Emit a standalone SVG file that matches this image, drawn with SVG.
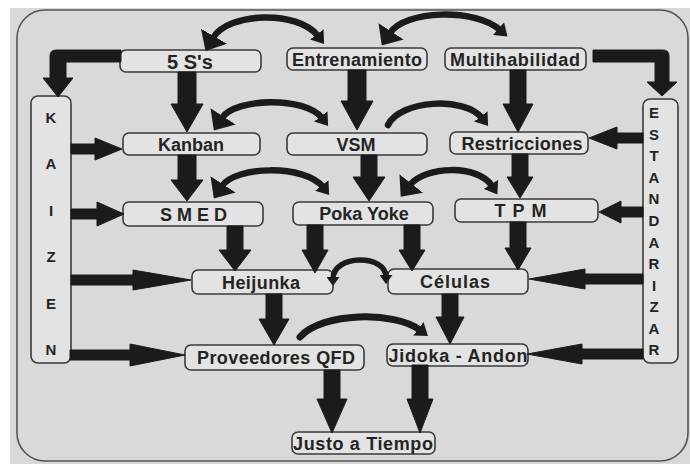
<svg xmlns="http://www.w3.org/2000/svg" width="690" height="464" viewBox="0 0 690 464">
  <style>
    .panel { fill: #d9d9d9; }
    .frame { fill: none; stroke: #555; stroke-width: 1.6; }
    .box { fill: #e3e3e3; stroke: #3a3a3a; stroke-width: 1.6; }
    .lbl { font-family: "Liberation Sans", Arial, sans-serif; font-weight: bold; font-size: 18px; fill: #242424; text-anchor: middle; }
    .vlbl { font-family: "Liberation Sans", Arial, sans-serif; font-weight: bold; font-size: 15px; fill: #242424; text-anchor: middle; }
    .blk { fill: #1b1b1b; stroke: #1b1b1b; stroke-width: 1; stroke-linejoin: round; }
    .arc { fill: none; stroke: #1b1b1b; stroke-width: 6.5; }
    .hd { fill: #1b1b1b; }
  </style>
  <defs>
    <marker id="hd-lg" viewBox="0 0 17 30" refX="2" refY="15" markerWidth="17" markerHeight="30" markerUnits="userSpaceOnUse" orient="auto-start-reverse">
      <path class="hd" d="M0,0 L17,15 L0,30 Z"/>
    </marker>
    <marker id="hd-sm" viewBox="0 0 12 17" refX="2" refY="8.5" markerWidth="12" markerHeight="17" markerUnits="userSpaceOnUse" orient="auto-start-reverse">
      <path class="hd" d="M0,0 L12,8.5 L0,17 Z"/>
    </marker>
    <marker id="hd-xs" viewBox="0 0 9 13" refX="2" refY="6.5" markerWidth="9" markerHeight="13" markerUnits="userSpaceOnUse" orient="auto-start-reverse">
      <path class="hd" d="M0,0 L9,6.5 L0,13 Z"/>
    </marker>
  </defs>

  <!-- background panel -->
  <rect class="panel" x="10" y="8" width="680" height="456"/>
  <rect class="frame" x="17" y="10" width="671" height="451" rx="28"/>

  <!-- side bars -->
  <g id="kaizen">
    <rect class="box" x="31" y="96" width="40" height="267" rx="7"/>
    <text class="vlbl" x="51" y="123">K</text>
    <text class="vlbl" x="51" y="169">A</text>
    <text class="vlbl" x="51" y="216">I</text>
    <text class="vlbl" x="51" y="262">Z</text>
    <text class="vlbl" x="51" y="309">E</text>
    <text class="vlbl" x="51" y="355">N</text>
  </g>
  <g id="estandarizar">
    <rect class="box" x="643" y="99" width="35" height="264" rx="7"/>
    <text class="vlbl" x="654" y="118">E</text>
    <text class="vlbl" x="654" y="140">S</text>
    <text class="vlbl" x="654" y="161">T</text>
    <text class="vlbl" x="654" y="183">A</text>
    <text class="vlbl" x="654" y="204">N</text>
    <text class="vlbl" x="654" y="226">D</text>
    <text class="vlbl" x="654" y="248">A</text>
    <text class="vlbl" x="654" y="269">R</text>
    <text class="vlbl" x="654" y="291">I</text>
    <text class="vlbl" x="654" y="312">Z</text>
    <text class="vlbl" x="654" y="334">A</text>
    <text class="vlbl" x="654" y="355">R</text>
  </g>

  <!-- process nodes -->
  <g id="n-5s">
    <rect class="box" x="120" y="50" width="141" height="22" rx="6"/>
    <text class="lbl" x="190" y="69" style="font-size:20px">5 S's</text>
  </g>
  <g id="n-entrenamiento">
    <rect class="box" x="287" y="48" width="140" height="22" rx="6"/>
    <text class="lbl" x="357" y="65.5" textLength="130">Entrenamiento</text>
  </g>
  <g id="n-multihabilidad">
    <rect class="box" x="445" y="48" width="141" height="22" rx="6"/>
    <text class="lbl" x="515" y="65.5" textLength="130">Multihabilidad</text>
  </g>
  <g id="n-kanban">
    <rect class="box" x="123" y="133" width="137" height="22" rx="6"/>
    <text class="lbl" x="191" y="150.5">Kanban</text>
  </g>
  <g id="n-vsm">
    <rect class="box" x="287" y="133" width="140" height="22" rx="6"/>
    <text class="lbl" x="356" y="150.5">VSM</text>
  </g>
  <g id="n-restricciones">
    <rect class="box" x="450" y="132" width="138" height="22" rx="6"/>
    <text class="lbl" x="522" y="149.5" textLength="121">Restricciones</text>
  </g>
  <g id="n-smed">
    <rect class="box" x="123" y="202" width="140" height="24" rx="6"/>
    <text class="lbl" x="196" y="220.5" style="letter-spacing:5px">SMED</text>
  </g>
  <g id="n-pokayoke">
    <rect class="box" x="293" y="202" width="140" height="23" rx="6"/>
    <text class="lbl" x="364" y="220">Poka Yoke</text>
  </g>
  <g id="n-tpm">
    <rect class="box" x="455" y="199" width="143" height="23" rx="6"/>
    <text class="lbl" x="524" y="217" style="letter-spacing:7px">TPM</text>
  </g>
  <g id="n-heijunka">
    <rect class="box" x="192" y="270" width="141" height="24" rx="6"/>
    <text class="lbl" x="261" y="288.5" textLength="78">Heijunka</text>
  </g>
  <g id="n-celulas">
    <rect class="box" x="388" y="269" width="140" height="25" rx="6"/>
    <text class="lbl" x="455" y="288" textLength="70">Células</text>
  </g>
  <g id="n-proveedores">
    <rect class="box" x="185" y="345" width="179" height="25" rx="6"/>
    <text class="lbl" x="276" y="364" textLength="158">Proveedores QFD</text>
  </g>
  <g id="n-jidoka">
    <rect class="box" x="387" y="344" width="141" height="22" rx="6"/>
    <text class="lbl" x="458" y="361.5" textLength="139">Jidoka - Andon</text>
  </g>
  <g id="n-justo">
    <rect class="box" x="292" y="432" width="143" height="22" rx="6"/>
    <text class="lbl" x="363" y="449.5" textLength="140">Justo a Tiempo</text>
  </g>

  <!-- connectors -->
  <g id="connectors">
    <!-- elbow arrows into the side bars -->
    <path class="blk" d="M121,50 H56 Q50,50 50,56 V78 H43 L58,97 L73,78 H66 V62 H121 Z"/>
    <path class="blk" d="M593,50 H663 Q669,50 669,56 V82 H677 L662,96 L647,82 H655 V62 H593 Z"/>

    <!-- downward block arrows -->
    <path class="blk" d="M178,72 H196 V104 H203 L187,132 L171,104 H178 Z"/>
    <path class="blk" d="M348,70 H366 V101 H373 L357,130 L341,101 H348 Z"/>
    <path class="blk" d="M510,70 H526 V104 H533 L518,132 L503,104 H510 Z"/>
    <path class="blk" d="M178,155 H196 V180 H203 L187,201 L171,180 H178 Z"/>
    <path class="blk" d="M361,155 H377 V177 H385 L369,201 L353,177 H361 Z"/>
    <path class="blk" d="M512,154 H528 V177 H533 L520,198 L507,177 H512 Z"/>
    <path class="blk" d="M227,226 H243 V250 H251 L235,271 L219,250 H227 Z"/>
    <path class="blk" d="M307,225 H323 V250 H328 L315,273 L302,250 H307 Z"/>
    <path class="blk" d="M404,225 H420 V250 H425 L412,271 L399,250 H404 Z"/>
    <path class="blk" d="M510,222 H526 V248 H531 L518,270 L505,248 H510 Z"/>
    <path class="blk" d="M266,294 H282 V319 H289 L274,345 L259,319 H266 Z"/>
    <path class="blk" d="M442,294 H458 V317 H464 L450,344 L436,317 H442 Z"/>
    <path class="blk" d="M324,370 H340 V399 H347 L332,433 L317,399 H324 Z"/>
    <path class="blk" d="M412,365 H428 V399 H433 L420,433 L407,399 H412 Z"/>

    <!-- from KAIZEN -->
    <path class="blk" d="M71,144 H95 V138 L122,149 L95,160 V154 H71 Z"/>
    <path class="blk" d="M71,209 H97 V202 L124,214 L97,226 V219 H71 Z"/>
    <path class="blk" d="M71,275 H133 V270 L191,280 L133,290 V285 H71 Z"/>
    <path class="blk" d="M70,350 H130 V344 L185,355 L130,366 V360 H70 Z"/>

    <!-- from ESTANDARIZAR -->
    <path class="blk" d="M643,133 H617 V127 L589,138 L617,149 V143 H643 Z"/>
    <path class="blk" d="M643,207 H621 V201 L599,212 L621,223 V217 H643 Z"/>
    <path class="blk" d="M643,274 H585 V269 L529,279 L585,289 V284 H643 Z"/>
    <path class="blk" d="M643,349 H582 V344 L527,354 L582,364 V359 H643 Z"/>

    <!-- curved links between neighbouring nodes -->
    <path class="arc" d="M213,38 C228,12 298,10 318,36" marker-start="url(#hd-lg)" marker-end="url(#hd-sm)"/>
    <path class="arc" d="M390,33 C405,10 475,8 500,30" marker-start="url(#hd-lg)" marker-end="url(#hd-sm)"/>
    <path class="arc" d="M222,118 C235,98 305,96 322,118" marker-start="url(#hd-lg)" marker-end="url(#hd-sm)"/>
    <path class="arc" d="M388,125 C400,100 465,96 482,118" stroke-linecap="round" marker-end="url(#hd-sm)"/>
    <path class="arc" d="M222,186 C235,166 305,164 323,187" marker-start="url(#hd-lg)" marker-end="url(#hd-sm)"/>
    <path class="arc" d="M410,185 C425,166 478,164 492,186" marker-start="url(#hd-lg)" marker-end="url(#hd-sm)"/>
    <path class="arc" d="M333,279 C333,254 386,254 386,277" style="stroke-width:5.5" marker-start="url(#hd-xs)" marker-end="url(#hd-xs)"/>
    <path class="arc" d="M300,337 C322,312 395,311 420,330" stroke-linecap="round" style="stroke-width:7" marker-end="url(#hd-sm)"/>
  </g>
</svg>
